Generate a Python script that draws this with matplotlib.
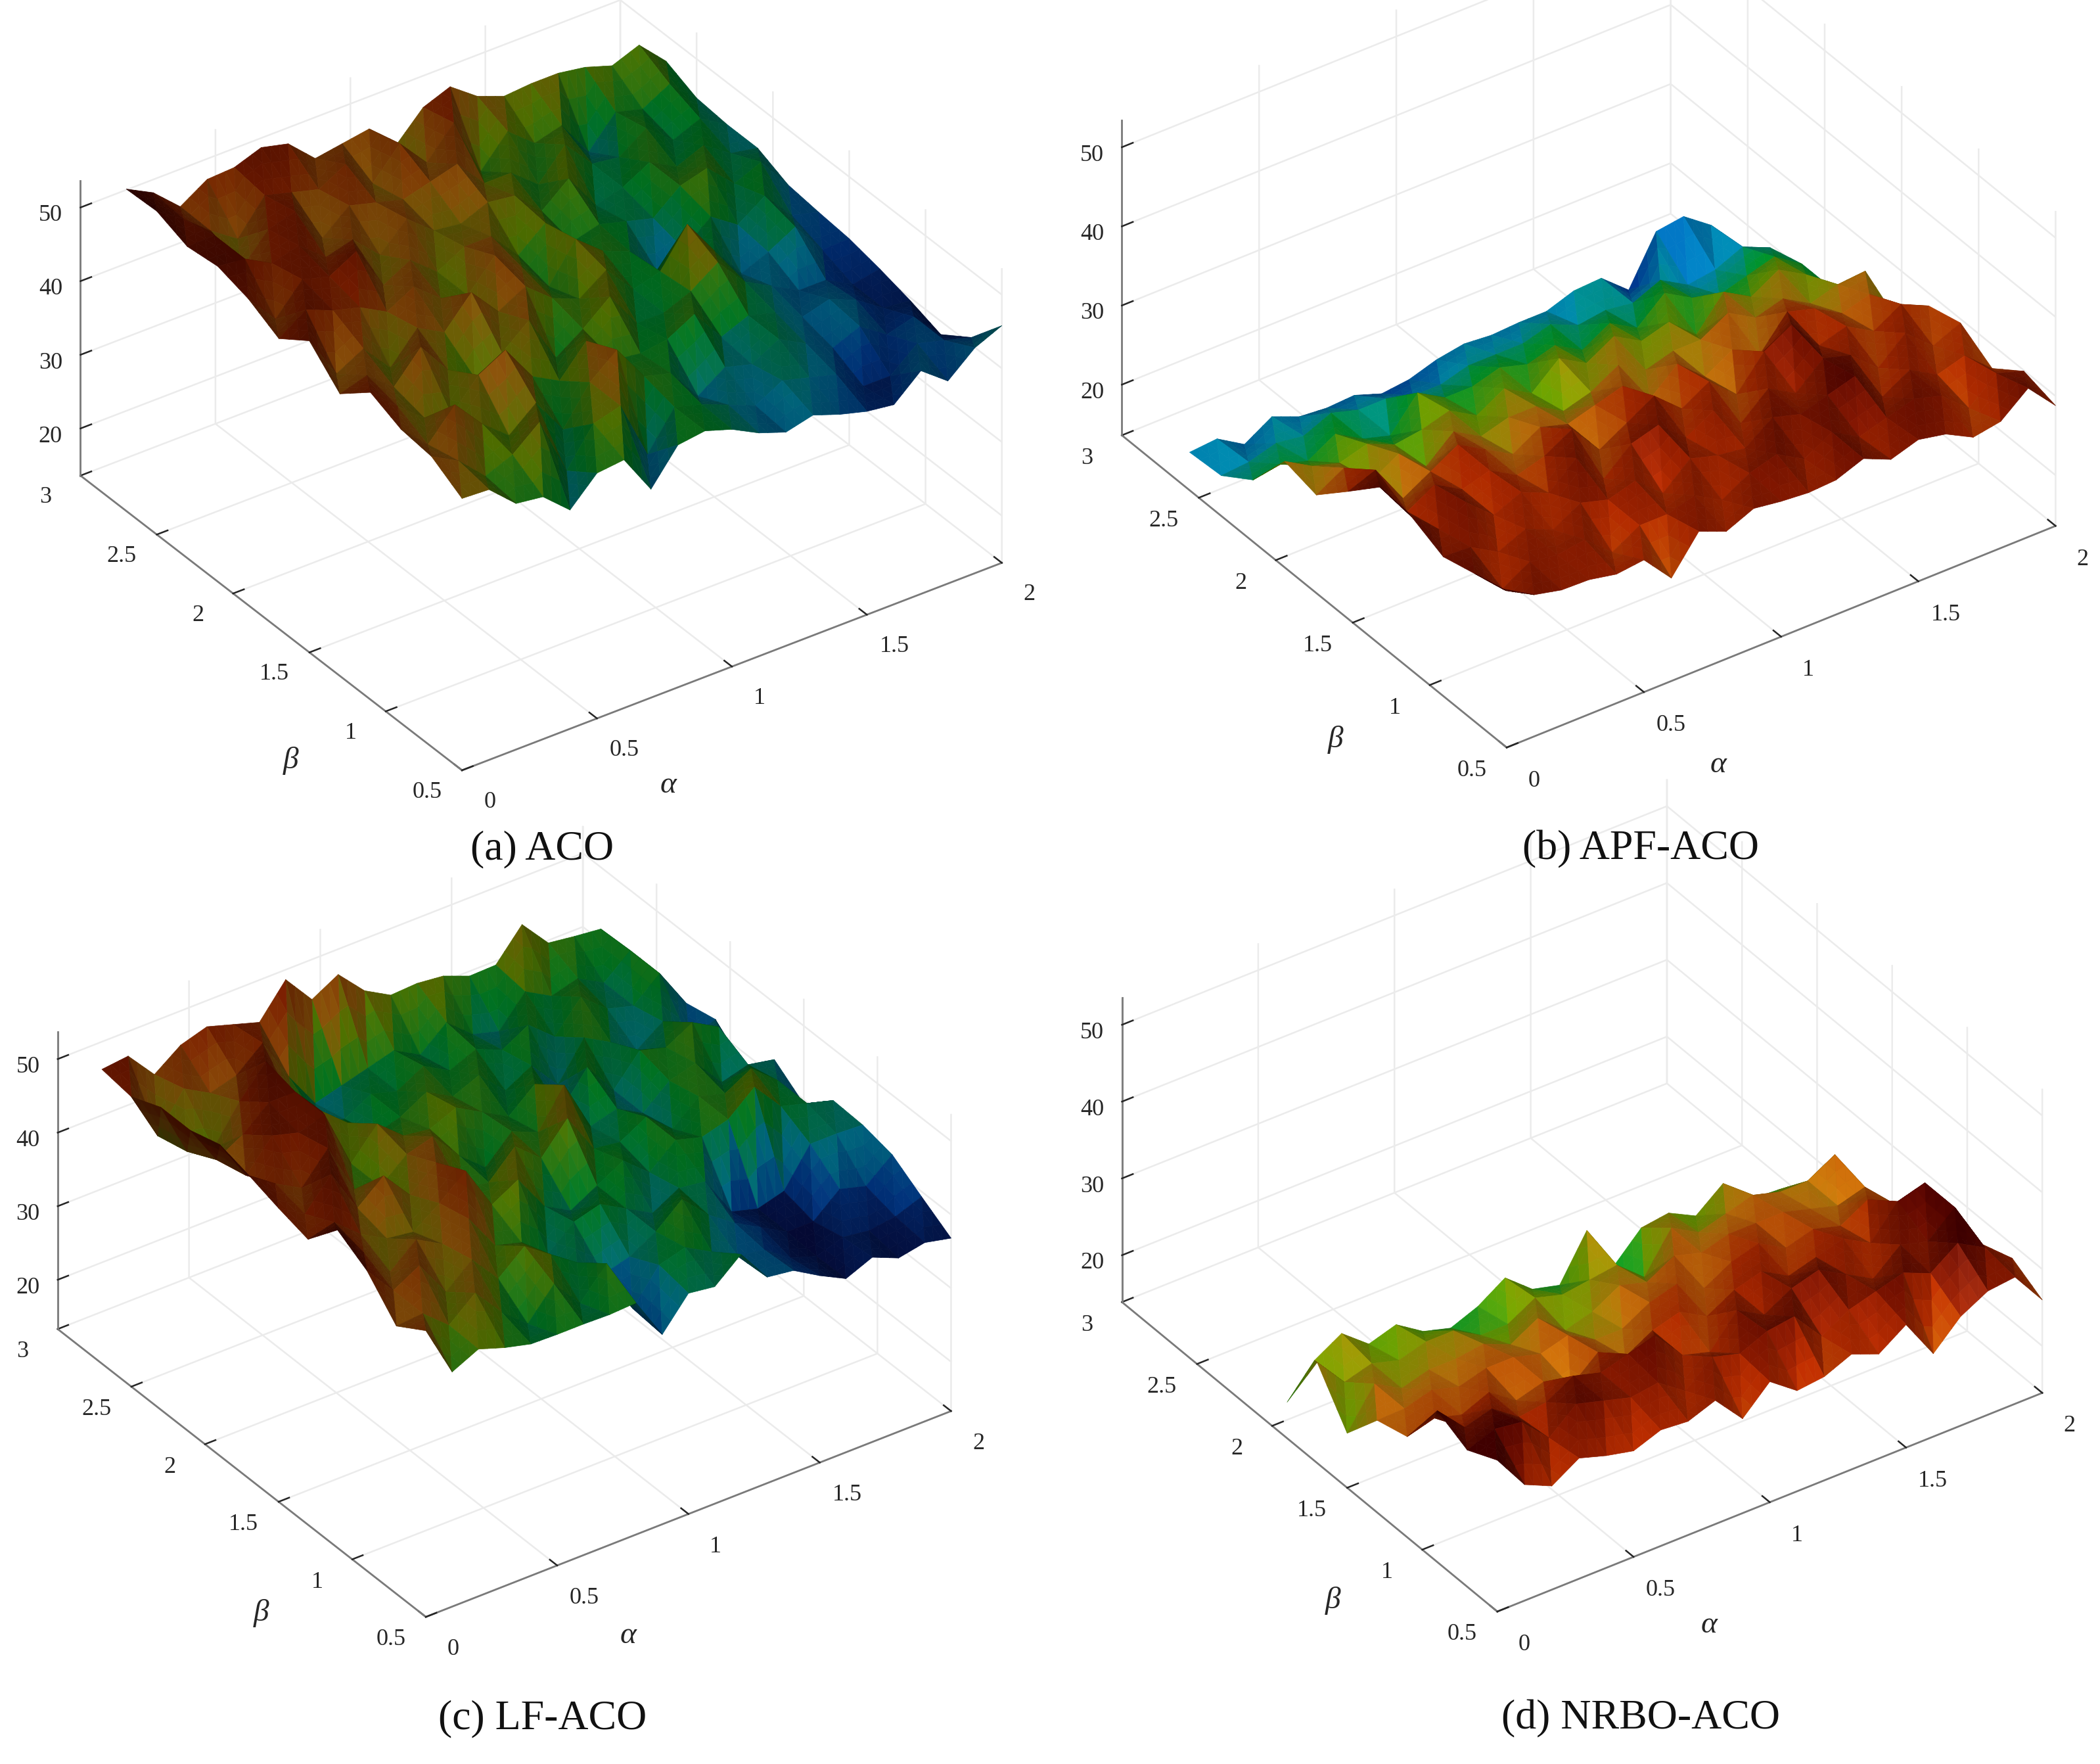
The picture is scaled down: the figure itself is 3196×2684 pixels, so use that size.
#!/usr/bin/env python3
"""Four ACO parameter surfaces, alpha / beta against path length."""
import numpy as np
import matplotlib
matplotlib.use("Agg")
import matplotlib.pyplot as plt
from matplotlib.colors import LinearSegmentedColormap
from mpl_toolkits.mplot3d.art3d import Poly3DCollection
from mpl_toolkits.mplot3d import proj3d

plt.rcParams["font.family"] = ["Liberation Serif", "DejaVu Serif"]
plt.rcParams["mathtext.fontset"] = "stix"

W, H, DPI = 3196, 2684, 200
S = 3196 / 1568  # reference was read at 1568 wide

ALPHA = [0.0, 0.1, 0.2, 0.3, 0.4, 0.5, 0.6, 0.7, 0.8, 0.9, 1.0, 1.1, 1.2, 1.3, 1.4, 1.5, 1.6, 1.7, 1.8, 1.9, 2.0]
BETA_A = [0.5, 0.7, 0.9, 1.1, 1.3, 1.5, 1.7, 1.9, 2.1, 2.3, 2.5, 2.7]
BETA_B = [0.5, 0.706, 0.912, 1.118, 1.324, 1.53, 1.736, 1.942, 2.148, 2.354, 2.56]
BETA_C = [0.5, 0.7, 0.9, 1.1, 1.3, 1.5, 1.7, 1.9, 2.1, 2.3, 2.5, 2.7]
BETA_D = [0.5, 0.7, 0.9, 1.1, 1.3, 1.5, 1.7, 1.9]

# rows run along alpha, one row per beta
Z_A = [
    [50.5, 50.3, 47, 46.5, 43.3, 46.9, 47.3, 41.9, 46.5, 47, 45.8, 43.9, 42.6, 43.5, 42.2, 41.2, 40.7, 43.9, 41.1, 44.2, 45.8],
    [53, 51, 47.5, 49, 52, 44, 49, 50, 42, 47, 46, 44.5, 43, 45, 44, 43, 40, 40, 43, 42, 41],
    [53.5, 50, 54, 50, 47, 50, 45, 50, 53, 48, 47, 42.5, 45, 44, 46, 44, 42, 43.5, 41, 42, 38.2],
    [55.3, 52, 49, 48, 52, 54, 49, 47, 51, 47, 46.5, 47, 49, 44.5, 46, 45, 43, 44, 42.5, 40, 39.6],
    [51.9, 53, 50, 54, 49.5, 47, 49, 52, 45.5, 48, 51, 46, 46, 47.5, 50, 46, 44, 42, 42, 40, 40.7],
    [55.9, 50, 52, 48, 52, 50, 54, 50, 52, 49, 47.5, 50, 46, 47, 52, 47, 42.5, 44, 46, 41.5, 41.6],
    [53, 55.5, 54, 53, 51, 53, 50, 49, 53, 50, 46, 51, 48, 46.5, 42.5, 44, 47, 44.5, 47, 43, 42],
    [55.2, 51, 55, 54, 56, 50, 52, 49, 51, 51, 47, 50, 46, 47, 46, 45, 48, 49, 45.5, 47, 42.5],
    [56.4, 56, 54, 55, 52, 53, 49.5, 53, 50, 49.5, 51, 50.5, 47, 50, 45, 46, 48, 46, 47.5, 45, 44.3],
    [55.9, 56, 50, 54, 55, 50, 53, 52, 51, 52, 53, 49, 49, 46, 50, 46, 45.5, 48, 45, 46.5, 44.3],
    [57.5, 55, 52, 49.5, 54, 53, 52, 54, 50, 54, 50, 54, 46, 50, 47, 48, 43, 47, 46, 48, 44.7],
    [57.3, 55.4, 52.1, 54.4, 54.6, 55.9, 55, 51.6, 52.2, 52.8, 49.2, 52.9, 54.3, 51.6, 50.2, 50.5, 50.5, 49.9, 48.7, 50.1, 46.5],
]
Z_B = [
    [33.4, 31.5, 30.7, 30.6, 29.9, 30.3, 26.6, 31.1, 29.7, 31.2, 30.7, 30.4, 30.6, 31.9, 30.4, 31.5, 30.8, 29, 29.6, 32.4, 28.8],
    [32.3, 29, 31, 30.5, 31, 28, 30, 30, 31, 29, 31, 32, 30, 32, 30, 31, 32, 31, 28, 31, 29.9],
    [31.2, 31, 29, 30.5, 29, 31, 30, 31, 28, 31, 30, 29.5, 32, 31, 32, 33, 29, 31, 29, 30, 27],
    [33, 30, 32, 29, 30.5, 29, 32, 28, 31, 32, 29, 31, 28, 31, 29, 32, 31, 28, 31, 28, 29.5],
    [33.5, 29, 31, 29, 30, 28, 29, 31, 27, 29, 31, 28, 30, 27, 31, 33, 29, 30, 28, 30, 28.4],
    [29.7, 31, 26, 28, 30, 28, 26, 28, 27, 28, 29, 26, 29, 26, 28, 26, 30, 29, 27, 28, 23.4],
    [26, 28, 25, 27, 24, 27, 25, 26, 26, 24, 25, 27, 25, 26, 26, 28, 26, 27, 25, 26, 26.3],
    [27, 25, 24, 25, 23.5, 24, 25, 23, 25, 23, 26, 24, 26, 24, 25, 22, 26, 24, 26, 24, 20.7],
    [21.4, 22, 21, 23, 21, 20, 24, 22, 22, 23, 22, 23, 21, 23, 21, 24, 22, 21, 22, 23, 20.7],
    [18.7, 19, 20, 19.5, 21, 20, 20, 19, 19, 20, 20, 20, 21, 19.5, 20, 19.5, 21, 19, 19.5, 21, 19.5],
    [18.4, 18.7, 16.6, 18.7, 17.3, 17, 17.2, 16, 16.4, 17.5, 18.1, 17.8, 18, 18, 19.2, 19.4, 16.5, 22.5, 23, 20.5, 16],
]
Z_C = [
    [52.2, 45.2, 46.9, 45.7, 44.8, 44.7, 44.7, 44.6, 44.8, 39.1, 43.3, 42.8, 45.8, 41.3, 40.8, 38.7, 36.9, 38.4, 36.9, 37.6, 36.8],
    [49.7, 50, 47, 50, 46, 43, 47, 43, 47, 39.5, 44, 45, 43, 41, 40.5, 38, 36.8, 38, 37.5, 38, 39.3],
    [54.1, 50, 52, 47, 50, 46, 49, 46.5, 44, 41, 42, 44, 47, 43.5, 41, 39, 37, 37, 40, 39, 41.9],
    [56.5, 52, 48, 51, 49, 51, 46, 45, 42, 45, 46, 44, 42, 44, 43.5, 38, 37, 38, 43, 43, 42.8],
    [52.1, 53, 50, 48, 47.5, 50, 53, 47, 49, 44, 42, 44, 46, 43, 46, 45, 46, 49, 45, 44, 43],
    [53.2, 51, 55, 49, 52, 48, 51, 46, 45.5, 49, 46, 50, 44.5, 44, 46, 43, 46, 45, 47, 44, 39.4],
    [54.5, 52, 50, 54, 47, 46, 49, 50, 46, 43, 46.5, 45, 50, 43, 44, 42, 45, 46, 42, 43, 42.3],
    [55.6, 50, 54, 53, 54, 46, 50, 47, 46.5, 48, 46, 44, 47, 42, 46.5, 42, 46, 45, 47, 45, 38],
    [54.4, 49, 51, 54, 54, 50, 47, 44, 45, 47, 45, 46.5, 43, 45, 41, 46, 44, 41.5, 44, 40, 41.5],
    [54.4, 47, 46, 51, 55, 48, 44, 43, 45, 44, 46, 44, 45.5, 44, 46, 43, 47, 44, 43, 46, 40.6],
    [52.7, 46, 51, 49, 50, 53, 47, 42, 43, 44, 45, 43, 46, 43, 42, 46, 44, 45, 43, 46, 38.6],
    [53.3, 53.7, 49.8, 52.4, 53.5, 52.4, 51.3, 55.7, 51.6, 53.6, 50, 48, 48.2, 47.8, 46.4, 46.5, 50.6, 46.7, 46.2, 45.8, 38.8],
]
Z_D = [
    [33.6, 29, 27.4, 29.6, 28.5, 27.7, 29, 28.7, 30, 26.2, 29.6, 27, 27.4, 28.9, 27.5, 29.9, 24.7, 28.1, 30, 30.4, 26],
    [31.7, 33, 32.5, 29, 32, 31, 30, 30.5, 28, 31, 30, 31.5, 32, 28, 30, 31, 32, 30.5, 33, 31, 28.2],
    [33.6, 30, 31, 28.5, 29, 31, 30, 31, 32, 28, 27, 31, 29, 31, 32, 30, 28, 31, 30, 33, 26.8],
    [27, 28, 27, 28.5, 26, 27, 25, 28, 26, 28, 29, 27, 29, 30, 28, 29, 30, 28, 32, 33, 24.7],
    [25.9, 26, 27, 26, 27, 27, 26, 27, 25, 25, 27, 28, 26, 28, 29, 27, 28, 27, 29, 27, 24.8],
    [21, 26, 24, 25, 25, 25.5, 24, 26, 23, 24, 26, 25, 27, 26, 27, 27, 27, 26, 25, 26, 21.3],
    [27, 23, 24, 23, 24, 24, 22, 22, 24, 23, 23.5, 24, 21, 26, 24, 25, 26, 25, 25, 27, 18.2],
    [18.6, 22.6, 24.7, 21.9, 23, 20.7, 19.7, 21.1, 23.4, 20.5, 19.6, 25.3, 19.3, 22.8, 23.3, 21.5, 24.3, 20.8, 20.6, 19.8, 18.6],
]

# the back peak of (b) is cyan and purple although it stands high: (row, col) -> colour value
COLOUR_FIX_B = {(10, 16): 13.5, (10, 17): 17.5, (10, 18): 17.5, (10, 19): 18.5,
                (9, 17): 18, (9, 18): 18.5, (9, 19): 19}

CAPTIONS = ["(a) ACO", "(b) APF-ACO", "(c) LF-ACO", "(d) NRBO-ACO"]
ALPHA_TICKS = [0, 0.5, 1, 1.5, 2]
BETA_TICKS = [0.5, 1, 1.5, 2, 2.5, 3]
Z_TICKS = [20, 30, 40, 50]

CMAP = LinearSegmentedColormap.from_list("surf", [
    (0.00, (0.03, 0.03, 0.30)), (0.15, (0.00, 0.30, 0.75)), (0.28, (0.00, 0.65, 0.80)),
    (0.42, (0.00, 0.72, 0.20)), (0.55, (0.50, 0.72, 0.00)), (0.68, (0.85, 0.50, 0.05)),
    (0.82, (0.75, 0.18, 0.00)), (1.00, (0.30, 0.00, 0.00))])

GRID = "#ebebeb"
AXC = "#7a7a7a"
LIGHT = np.array([-0.45, -0.55, 0.70])
LIGHT = LIGHT / np.linalg.norm(LIGHT)

# corners (1568 scale)
PANELS = [
    dict(z=Z_A, beta=BETA_A, front=(345, 575), xv=(403, -155), yv=(-285, -220), zspan=220, fix={},
         zlim=(13.6, 53.6), clim=(38.5, 57.5), gain=0.6, spec=0.02, elev=33.0, azim=-125.2, cap=(405, 634),
         alab=(499, 586), blab=(217, 568)),
    dict(z=Z_B, beta=BETA_B, front=(1125, 558), xv=(410, -165), yv=(-287, -233), zspan=235, fix=COLOUR_FIX_B,
         zlim=(13.6, 53.4), clim=(13.5, 33), gain=0.98, spec=0.12, elev=34.9, azim=-125.2, cap=(1225, 634),
         alab=(1283, 571), blab=(997, 552)),
    dict(z=Z_C, beta=BETA_C, front=(318, 1207), xv=(392, -154), yv=(-275, -215), zspan=222, fix={},
         zlim=(13.3, 53.7), clim=(36.5, 56), gain=0.62, spec=0.03, elev=33.6, azim=-125.3, cap=(405, 1283),
         alab=(469, 1221), blab=(195, 1204)),
    dict(z=Z_D, beta=BETA_D, front=(1118, 1203), xv=(407, -163), yv=(-280, -231), zspan=227, fix={},
         zlim=(13.9, 53.5), clim=(11, 32.5), gain=1.0, spec=0.1, elev=35.1, azim=-124.9, cap=(1225, 1283),
         alab=(1276, 1213), blab=(995, 1195)),
]


def surface_polys(alpha, beta, z, p):
    """Split every grid cell in two facets, shade each facet, colour varies a little inside it."""
    n = 3
    polys, cols = [], []
    zl = p["zlim"]
    sx, sy, sz = 1.0 / 2.0, 1.0 / 2.5, (p["zspan"] / 420.0) / (zl[1] - zl[0])
    lo, hi = p["clim"]
    cval = np.array(z, dtype=float)
    for k, v in p["fix"].items():
        cval[k] = v
    for j in range(len(beta) - 1):
        for i in range(len(alpha) - 1):
            a = np.array([alpha[i], beta[j], z[j][i], cval[j, i]])
            b = np.array([alpha[i + 1], beta[j], z[j][i + 1], cval[j, i + 1]])
            c = np.array([alpha[i + 1], beta[j + 1], z[j + 1][i + 1], cval[j + 1, i + 1]])
            d = np.array([alpha[i], beta[j + 1], z[j + 1][i], cval[j + 1, i]])
            for t0, t1, t2 in ((a, b, c), (a, c, d)):
                e1 = (t1 - t0)[:3] * (sx, sy, sz)
                e2 = (t2 - t0)[:3] * (sx, sy, sz)
                nrm = np.cross(e1, e2)
                nrm = nrm / np.linalg.norm(nrm)
                if nrm[2] < 0:
                    nrm = -nrm
                dif = max(0.0, nrm @ LIGHT)
                shade = 0.5 + 0.55 * dif
                sp = p["spec"] * dif ** 40
                cmean = (t0[3] + t1[3] + t2[3]) / 3
                pts = {}
                for u in range(n + 1):
                    for v in range(n + 1 - u):
                        pts[u, v] = t0 + (t1 - t0) * u / n + (t2 - t0) * v / n
                tris = []
                for u in range(n):
                    for v in range(n - u):
                        tris.append((pts[u, v], pts[u + 1, v], pts[u, v + 1]))
                        if u + v < n - 1:
                            tris.append((pts[u + 1, v], pts[u + 1, v + 1], pts[u, v + 1]))
                for tr in tris:
                    cm = (tr[0][3] + tr[1][3] + tr[2][3]) / 3
                    cm = 0.65 * cmean + 0.35 * cm  # mostly flat facets
                    rgb = np.array(CMAP(np.clip((cm - lo) / (hi - lo), 0, 1))[:3])
                    rgb = rgb * p["gain"] * shade + sp
                    polys.append([q[:3] for q in tr])
                    cols.append(np.clip(rgb, 0, 1))
    return polys, cols


def corner_px(ax, x, y, z):
    px, py, _ = proj3d.proj_transform(x, y, z, ax.get_proj())
    return ax.transData.transform((px, py))


def place(ax, fig, p):
    # scale and shift the square axes until the box corners land on the read positions
    xlo, ylo, zlo = 0, 0.5, p["zlim"][0]
    w0 = 0.4
    for _ in range(3):
        ax.set_position([0.3, 0.3, w0, w0 * W / H])
        ax.apply_aspect()
        f = corner_px(ax, xlo, ylo, zlo)
        r = corner_px(ax, 2, ylo, zlo)
        tgt = np.hypot(*p["xv"]) * S
        w0 = w0 * tgt / np.hypot(*(r - f))
    ax.set_position([0.3, 0.3, w0, w0 * W / H])
    ax.apply_aspect()
    f = corner_px(ax, xlo, ylo, zlo)
    tx, ty = p["front"][0] * S, H - p["front"][1] * S
    ax.set_position([0.3 + (tx - f[0]) / W, 0.3 + (ty - f[1]) / H, w0, w0 * W / H])
    ax.apply_aspect()


fig = plt.figure(figsize=(W / DPI, H / DPI), dpi=DPI, facecolor="white")

for k, p in enumerate(PANELS):
    ax = fig.add_axes([0.3, 0.3, 0.4, 0.4 * W / H], projection="3d")
    ax.patch.set_alpha(0)
    ax.set_proj_type("ortho")
    ax.view_init(elev=p["elev"], azim=p["azim"])
    ax.set_box_aspect((np.hypot(p["xv"][0], p["xv"][1] / np.sin(np.radians(p["elev"]))),
                       np.hypot(p["yv"][0], p["yv"][1] / np.sin(np.radians(p["elev"]))),
                       p["zspan"] / np.cos(np.radians(p["elev"]))))
    ax.set_xlim(0, 2, view_margin=0)
    ax.set_ylim(0.5, 3, view_margin=0)
    ax.set_zlim(p["zlim"][0], p["zlim"][1], view_margin=0)

    polys, cols = surface_polys(ALPHA, p["beta"], p["z"], p)
    coll = Poly3DCollection(polys, facecolors=cols, edgecolors=cols, linewidths=0.25)
    ax.add_collection3d(coll, autolim=False)

    ax.set_xticks(ALPHA_TICKS)
    ax.set_xticklabels(["0", "0.5", "1", "1.5", "2"])
    ax.set_yticks(BETA_TICKS)
    ax.set_yticklabels(["0.5", "1", "1.5", "2", "2.5", "3"])
    ax.set_zticks(Z_TICKS)
    ax.set_zticklabels(["20", "30", "40", "50"])
    ax.zaxis.set_ticks_position("upper")
    ax.tick_params(labelsize=13, colors="#262626")
    ax.tick_params(axis="x", pad=12)
    ax.tick_params(axis="y", pad=10)
    ax.tick_params(axis="z", pad=1)
    for t in ax.xaxis.get_ticklabels() + ax.yaxis.get_ticklabels():
        t.set_va("bottom")
    for axis in (ax.xaxis, ax.yaxis, ax.zaxis):
        axis.set_pane_color((1, 1, 1, 0))
        axis.pane.set_edgecolor(GRID)
        axis.line.set_color(AXC)
        axis.line.set_linewidth(1.0)
        axis._axinfo["grid"].update(color=GRID, linewidth=0.9)
        axis._axinfo["tick"].update(color=AXC, outward_factor=0.25, inward_factor=0.0)
        axis._axinfo["tick"]["linewidth"] = {True: 0.9, False: 0.6}
    place(ax, fig, p)

    fig.text(p["cap"][0] * S / W, 1 - p["cap"][1] * S / H, CAPTIONS[k],
             fontsize=23, ha="center", va="center", color="#111111")
    fig.text(p["alab"][0] * S / W, 1 - p["alab"][1] * S / H, "α", style="italic",
             fontsize=17, ha="center", va="center", color="#262626")
    fig.text(p["blab"][0] * S / W, 1 - p["blab"][1] * S / H, "β", style="italic",
             fontsize=17, ha="center", va="center", color="#262626")

fig.savefig("out.png", dpi=DPI, facecolor="white")
